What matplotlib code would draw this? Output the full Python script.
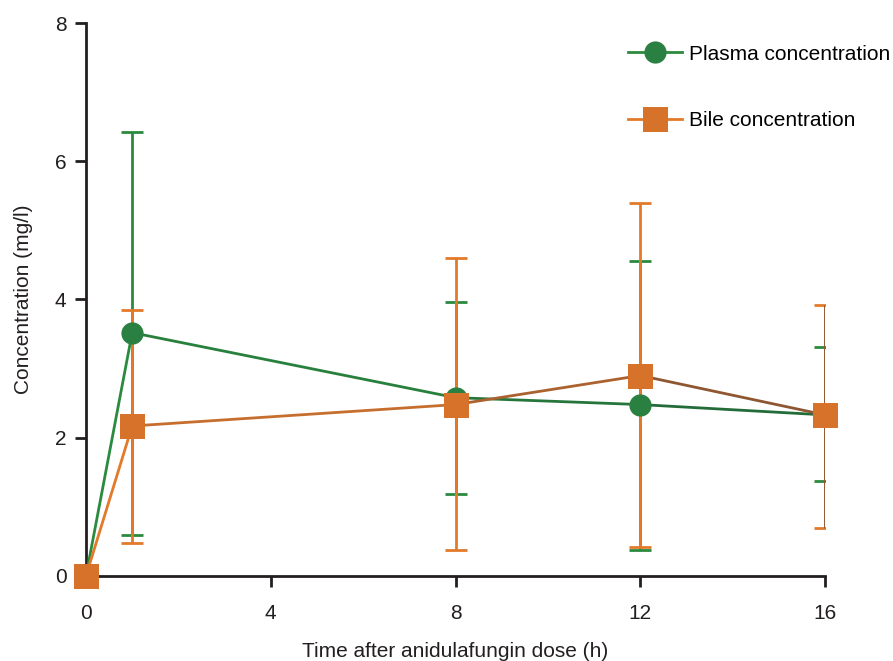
import matplotlib.pyplot as plt
import numpy as np
from matplotlib.lines import Line2D
from matplotlib.collections import LineCollection
from matplotlib.colors import to_rgb

plt.rcParams['font.family'] = ['Liberation Sans', 'DejaVu Sans']

hours = [0, 1, 8, 12, 16]
plasma = [0, 3.52, 2.58, 2.48, 2.33]
plasma_lo = [0, 0.59, 1.19, 0.38, 1.37]
plasma_hi = [0, 6.42, 3.97, 4.55, 3.31]
bile = [0, 2.17, 2.48, 2.90, 2.33]
bile_lo = [0, 0.48, 0.37, 0.42, 0.69]
bile_hi = [0, 3.85, 4.60, 5.40, 3.92]

green = '#2b8a3e'
dgreen = '#236c3a'
mgreen = '#2a8040'
orange = '#e27a2a'
brown = '#8f5632'
sq = '#d7722b'
txt = '#231f20'

fig = plt.figure(figsize=(8.93, 6.61), dpi=100)
ax = fig.add_axes([0.0963, 0.1286, 0.8277, 0.8366])

def grad_line(x, y, c1, c2, z):
    pts = np.array([x, y]).T.reshape(-1, 1, 2)
    segs = np.concatenate([pts[:-1], pts[1:]], axis=1)
    t = np.linspace(0, 1, len(segs))
    cols = [tuple((1 - k) * np.array(to_rgb(c1)) + k * np.array(to_rgb(c2))) for k in t]
    lc = LineCollection(segs, colors=cols, linewidths=2, zorder=z)
    lc.set_clip_on(False)
    ax.add_collection(lc)

# error bars (skip the zero point)
p = np.array(plasma); b = np.array(bile)
ax.errorbar(hours[1:], p[1:], yerr=[p[1:] - np.array(plasma_lo[1:]), np.array(plasma_hi[1:]) - p[1:]],
            fmt='none', ecolor=green, elinewidth=2, capsize=8, capthick=2, zorder=2)
ax.errorbar(hours[1:], b[1:], yerr=[b[1:] - np.array(bile_lo[1:]), np.array(bile_hi[1:]) - b[1:]],
            fmt='none', ecolor=orange, elinewidth=2, capsize=8, capthick=2, zorder=3)
# last bile error bar drawn brown
ax.errorbar(hours[-1:], b[-1:], yerr=[[b[-1] - bile_lo[-1]], [bile_hi[-1] - b[-1]]],
            fmt='none', ecolor=brown, elinewidth=2, capsize=0, zorder=3)

grad_line(hours, plasma, green, dgreen, 4)
grad_line(hours, bile, orange, brown, 4)

ax.plot(hours[1:], plasma[1:], 'o', ms=16, color=mgreen, markeredgewidth=0, zorder=5)
ax.plot(hours, bile, 's', ms=18, color=sq, markeredgewidth=0, zorder=6, clip_on=False)

ax.set_xlim(0, 16)
ax.set_ylim(0, 8)
ax.set_xticks([0, 4, 8, 12, 16])
ax.set_yticks([0, 2, 4, 6, 8])
for s in ['top', 'right']:
    ax.spines[s].set_visible(False)
for s in ['left', 'bottom']:
    ax.spines[s].set_linewidth(2)
    ax.spines[s].set_color(txt)
ax.tick_params(direction='out', length=8, width=2, labelsize=15, colors=txt)
ax.tick_params(axis='x', pad=12)
ax.tick_params(axis='y', pad=6)
ax.set_xlabel('Time after anidulafungin dose (h)', fontsize=15, color=txt, labelpad=14)
ax.set_ylabel('Concentration (mg/l)', fontsize=15, color=txt, labelpad=16)

h1 = Line2D([], [], color=green, lw=2, marker='o', ms=16, markerfacecolor=mgreen,
            markeredgewidth=0)
h2 = Line2D([], [], color=orange, lw=2, marker='s', ms=18, markerfacecolor=sq,
            markeredgewidth=0)
ax.legend([h1, h2], ['Plasma concentration', 'Bile concentration'], loc='upper right',
          bbox_to_anchor=(1.113, 0.995), frameon=False, fontsize=15, labelspacing=2.3,
          handlelength=2.6, handletextpad=0.3)

fig.savefig('out.png', dpi=100)
